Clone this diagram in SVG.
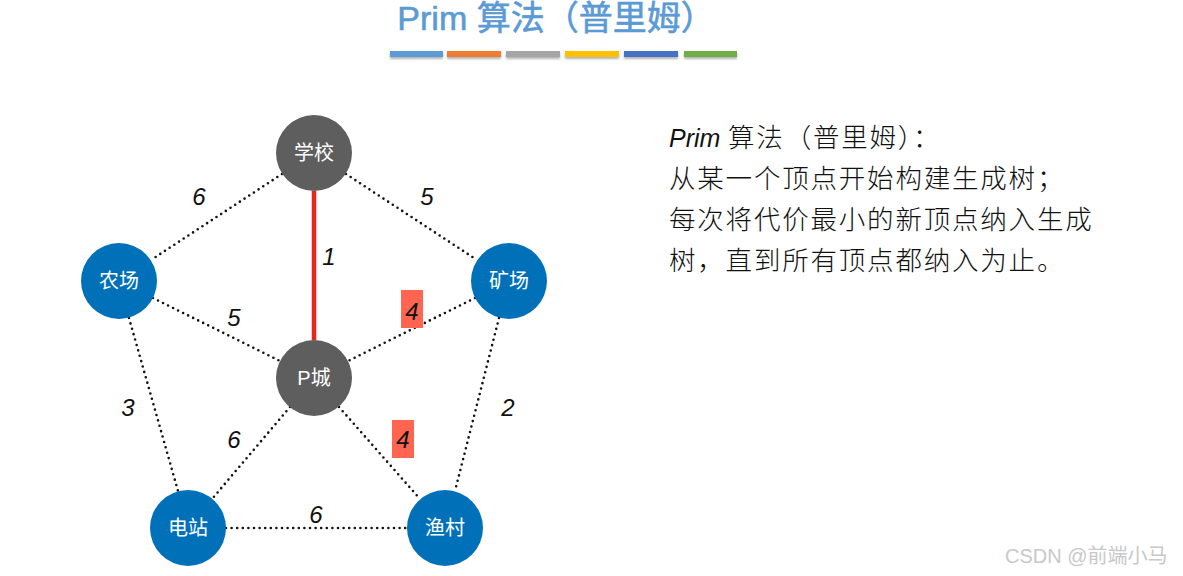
<svg xmlns="http://www.w3.org/2000/svg" width="1183" height="576" viewBox="0 0 1183 576">
<style>
.title{font-family:"Liberation Sans","Noto Sans CJK SC",sans-serif;font-size:34px;fill:#5b9bd5;stroke:#5b9bd5;stroke-width:0.6}
.edge{stroke:#111;stroke-width:2.6;stroke-dasharray:0 5.6;stroke-linecap:round;fill:none}
.gray{fill:#5e5e5e}
.blue{fill:#0070b8}
.nt{font-family:"Liberation Sans","Noto Sans CJK SC",sans-serif;font-size:20px;fill:#fff;text-anchor:middle}
.w{font-family:"Liberation Sans",sans-serif;font-size:24px;font-style:italic;fill:#111;text-anchor:middle}
.body{font-family:"Noto Sans CJK SC","Liberation Sans",sans-serif;font-size:26.5px;font-weight:300;letter-spacing:1.8px;fill:#111}
.hl{fill:#ff6550}
</style>
<defs>
<filter id="sh" x="-10%" y="-50%" width="120%" height="250%"><feDropShadow dx="0" dy="2" stdDeviation="1" flood-color="#000" flood-opacity="0.3"/></filter>
</defs>
<rect width="1183" height="576" fill="#fff"/>
<text class="title" x="556" y="30" text-anchor="middle">Prim 算法（普里姆）</text>
<g filter="url(#sh)">
<rect x="390" y="51" width="53" height="6" fill="#5b9bd5"/>
<rect x="447" y="51" width="54" height="6" fill="#ed7d31"/>
<rect x="506" y="51" width="54" height="6" fill="#a5a5a5"/>
<rect x="565" y="51" width="54" height="6" fill="#ffc000"/>
<rect x="624" y="51" width="54" height="6" fill="#4472c4"/>
<rect x="684" y="51" width="53" height="6" fill="#70ad47"/>
</g>
<g id="connectors">
<line class="edge" x1="282" y1="174" x2="151" y2="260"/>
<line class="edge" x1="346" y1="174" x2="477" y2="260"/>
<line class="edge" x1="153" y1="298" x2="280" y2="361"/>
<line class="edge" x1="475" y1="298" x2="348" y2="361"/>
<line class="edge" x1="129" y1="318" x2="178" y2="491"/>
<line class="edge" x1="499" y1="318" x2="455" y2="491"/>
<line class="edge" x1="290" y1="407" x2="212" y2="499"/>
<line class="edge" x1="339" y1="407" x2="420" y2="499"/>
<line class="edge" x1="226" y1="528" x2="407" y2="528"/>
<line x1="314" y1="191" x2="314" y2="340" stroke="#e8261c" stroke-width="4.5"/>
<rect class="hl" x="401" y="290" width="22" height="38"/>
<rect class="hl" x="392" y="420" width="22" height="38"/>
<text class="w" x="199" y="205">6</text>
<text class="w" x="427" y="205">5</text>
<text class="w" x="329" y="265">1</text>
<text class="w" x="412" y="320">4</text>
<text class="w" x="234" y="326">5</text>
<text class="w" x="128" y="416">3</text>
<text class="w" x="508" y="416">2</text>
<text class="w" x="234" y="448">6</text>
<text class="w" x="403" y="448">4</text>
<text class="w" x="316" y="523">6</text>
</g>
<g id="n-school"><circle class="gray" cx="314" cy="153" r="38"/><text class="nt" x="314" y="160">学校</text></g>
<g id="n-farm"><circle class="blue" cx="119" cy="281" r="38"/><text class="nt" x="119" y="288">农场</text></g>
<g id="n-mine"><circle class="blue" cx="509" cy="281" r="38"/><text class="nt" x="509" y="288">矿场</text></g>
<g id="n-pcity"><circle class="gray" cx="314" cy="378" r="38"/><text class="nt" x="314" y="385">P城</text></g>
<g id="n-power"><circle class="blue" cx="188" cy="528" r="38"/><text class="nt" x="188" y="535">电站</text></g>
<g id="n-fish"><circle class="blue" cx="445" cy="528" r="38"/><text class="nt" x="445" y="535">渔村</text></g>
<g id="desc">
<text class="body" x="669" y="147"><tspan font-style="italic" font-family="Liberation Sans,sans-serif" font-weight="normal" font-size="25" letter-spacing="0">Prim</tspan> 算法（普里姆）：</text>
<text class="body" x="669" y="188">从某一个顶点开始构建生成树；</text>
<text class="body" x="669" y="229">每次将代价最小的新顶点纳入生成</text>
<text class="body" x="669" y="270">树，直到所有顶点都纳入为止。</text>
</g>
<text x="1005" y="563" font-family="Liberation Sans,Noto Sans CJK SC,sans-serif" font-size="20" fill="#c8c8c8">CSDN @前端小马</text>
</svg>
